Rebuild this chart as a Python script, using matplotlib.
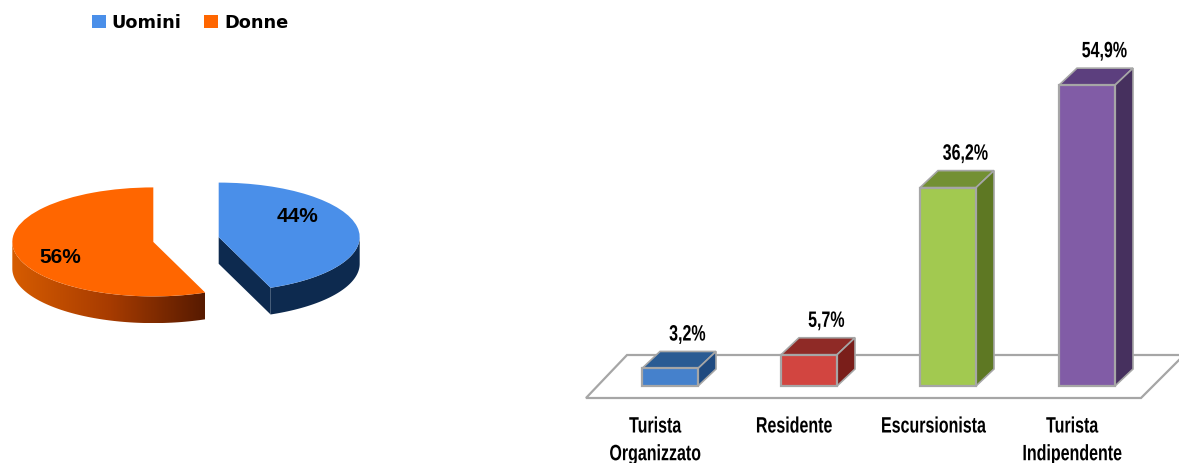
import numpy as np
import matplotlib
matplotlib.use('Agg')
import matplotlib.pyplot as plt
from matplotlib.patches import Polygon
from matplotlib.patheffects import AbstractPathEffect
from matplotlib.transforms import Affine2D

W, H = 1179, 463

# pie data
sessi = ['Uomini', 'Donne']
quote = [44, 56]
colori_pie = ['#4A8FE9', '#FF6600']

# bar data
tipi = ['Turista\nOrganizzato', 'Residente', 'Escursionista', 'Turista\nIndipendente']
valori = [3.2, 5.7, 36.2, 54.9]
etichette = ['3,2%', '5,7%', '36,2%', '54,9%']
col_front = ['#4581CC', '#D24540', '#A2C950', '#815CA6']
col_top = ['#2A5B93', '#8F2A26', '#739033', '#5C3F7E']
col_side = ['#1F4A80', '#7A1E1A', '#5E7823', '#46305E']


# no condensed font installed: squeeze each text line around its own centre
class Stretto(AbstractPathEffect):
    def __init__(self, sx):
        super().__init__()
        self.sx = sx

    def draw_path(self, renderer, gc, tpath, affine, rgbFace=None):
        e = tpath.get_extents()
        m = (e.x0 + e.x1) / 2
        t = Affine2D().translate(-m, 0).scale(self.sx, 1).translate(m, 0) + affine
        renderer.draw_path(gc, tpath, t, rgbFace)


fig = plt.figure(figsize=(W / 100, H / 100), dpi=100, facecolor='white')

# ---- pie, squashed by using different x/y scales ----
ax = fig.add_axes([0, 0, 1, 1])
cx, cy, ux, uy = 186, 239.5, 141, 54.5
wedges, _ = ax.pie(quote, colors=colori_pie, startangle=90, counterclock=False,
                   explode=[0.236, 0.236], radius=1, wedgeprops={'linewidth': 0, 'zorder': 5})
ax.set_aspect('auto')
ax.axis('off')

depth = 0.49


def arco(w, a, b):
    t = np.radians(np.linspace(a, b, 80))
    return np.c_[w.center[0] + w.r * np.cos(t), w.center[1] + w.r * np.sin(t)]


# blue side + cut face
w = wedges[0]
a = arco(w, w.theta1, 0)
pts = np.vstack([a, a[::-1] - [0, depth]])
ax.add_patch(Polygon(pts, fc='#0D2A4F', ec='none', zorder=2))
tip = a[0]
cen = np.array(w.center)
ax.add_patch(Polygon([cen, tip, tip - [0, depth], cen - [0, depth]], fc='#0D2A4F', ec='none', zorder=2))

# orange side with a left-to-right gradient
w = wedges[1]
a = arco(w, -180, w.theta2)
pts = np.vstack([a, a[::-1] - [0, depth]])
poly = Polygon(pts, fc='none', ec='none', transform=ax.transData)
ax.add_patch(poly)
grad = np.linspace(0, 1, 256).reshape(1, -1)
cmap = matplotlib.colors.LinearSegmentedColormap.from_list('o', ['#D65C00', '#A83C00', '#571A00'])
im = ax.imshow(grad, cmap=cmap, aspect='auto', zorder=2,
               extent=[a[:, 0].min(), a[:, 0].max(), a[:, 1].min() - depth, a[:, 1].max()])
im.set_clip_path(poly)
ax.set_xlim(-cx / ux, (W - cx) / ux)
ax.set_ylim(-(H - cy) / uy, cy / uy)

ax.text(wedges[0].center[0] + 0.56, wedges[0].center[1] + 0.37, '44%', ha='center', va='center',
        fontsize=15, fontweight='bold', family='Liberation Sans', zorder=6)
ax.text(wedges[1].center[0] - 0.66, wedges[1].center[1] - 0.29, '56%', ha='center', va='center',
        fontsize=15, fontweight='bold', family='Liberation Sans', zorder=6)

fig.legend(wedges, sessi, ncol=2, loc='center', bbox_to_anchor=(190 / W, 1 - 23 / H), frameon=False,
           prop={'family': 'DejaVu Sans', 'weight': 'bold', 'size': 12.8},
           handlelength=0.8, handleheight=0.75, handletextpad=0.33, columnspacing=1.25, borderpad=0)

# ---- 3d-looking bars ----
bx = fig.add_axes([0, 0, 1, 1])
bx.patch.set_alpha(0)
x0, step, y0, py = 670, 139, 386, 5.48
bx.set_xlim(-x0 / step, (W - x0) / step)
bx.set_ylim(-(H - y0) / py, y0 / py)
bx.axis('off')
dx, dy = 18 / step, 17 / py
larg = 56 / step
bordo = '#A6A6A6'

# floor
fl = -12 / py
bk = 31 / py
bx.add_patch(Polygon([[-84 / step, fl], [471 / step, fl], [(471 + 43) / step, bk], [-43 / step, bk]],
                     closed=True, fc='white', ec=bordo, lw=1.6, zorder=1))

xs = np.arange(len(valori))
bx.bar(xs, valori, width=larg, color=col_front, edgecolor=bordo, linewidth=1.6, zorder=4)
for i, v in enumerate(valori):
    l, r = i - larg / 2, i + larg / 2
    bx.add_patch(Polygon([[l, v], [r, v], [r + dx, v + dy], [l + dx, v + dy]],
                         fc=col_top[i], ec=bordo, lw=1.2, zorder=3))
    bx.add_patch(Polygon([[r, 0], [r + dx, dy], [r + dx, v + dy], [r, v]],
                         fc=col_side[i], ec=bordo, lw=1.2, zorder=3))
    bx.text(i + 0.125, v + 6.1, etichette[i], ha='center', va='center', fontsize=16,
            fontweight='bold', family='Liberation Sans', zorder=6, path_effects=[Stretto(0.72)])
    bx.text(i - 0.108, -30.5 / py, tipi[i], ha='center', va='top', fontsize=16, fontweight='bold',
            family='Liberation Sans', linespacing=1.42, zorder=6, path_effects=[Stretto(0.72)])

fig.savefig('out.png', dpi=100, facecolor='white')
